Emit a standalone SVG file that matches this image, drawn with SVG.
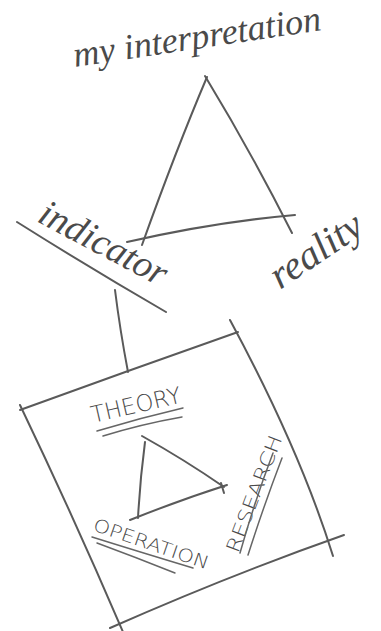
<svg xmlns="http://www.w3.org/2000/svg" width="381" height="631" viewBox="0 0 381 631">
<style>
  .ln { fill: none; stroke: #5a5a5a; stroke-width: 2; stroke-linecap: round; stroke-linejoin: round; }
  .thin { fill: none; stroke: #666; stroke-width: 1.5; stroke-linecap: round; }
  .hand { font-family: "Liberation Serif", serif; font-style: italic; fill: #4a4a4a; }
  .caps { font-family: "DejaVu Sans", sans-serif; font-weight: 200; fill: #4a4a4a; }
</style>
<rect width="381" height="631" fill="#fff"/>

<g id="triangle-top">
  <path class="ln" d="M207 77 Q176 150 142 245"/>
  <path class="ln" d="M205 76 Q250 150 292 233"/>
  <path class="ln" d="M127 242 Q215 222 295 215"/>
</g>

<g id="my-interpretation">
  <text class="hand" font-size="36" transform="translate(75 67) rotate(-8.5)" textLength="250" lengthAdjust="spacingAndGlyphs">my interpretation</text>
</g>

<g id="indicator">
  <text class="hand" font-size="38" transform="translate(36 221) rotate(28)" textLength="140" lengthAdjust="spacingAndGlyphs">indicator</text>
  <path class="ln" d="M17 222 Q90 268 166 312"/>
</g>

<g id="reality">
  <text class="hand" font-size="40" transform="translate(280 290) rotate(-34)" textLength="104" lengthAdjust="spacingAndGlyphs">reality</text>
</g>

<g id="frame">
  <path class="ln" d="M20 410 Q130 370 238 332"/>
  <path class="ln" d="M230 320 Q300 450 333 556"/>
  <path class="ln" d="M110 628 Q230 575 344 535"/>
  <path class="ln" d="M20 405 Q75 520 123 632"/>
</g>

<g id="theory">
  <text class="caps" font-size="23" transform="translate(93 423) rotate(-13)" textLength="92" lengthAdjust="spacingAndGlyphs">THEORY</text>
  <path class="thin" d="M97 431 Q140 418 183 408"/>
  <path class="thin" d="M103 436 Q142 424 182 417"/>
</g>

<g id="triangle-inner">
  <path class="ln" d="M142 436 Q185 460 224 487"/>
  <path class="ln" d="M145 442 Q140 480 138 518"/>
  <path class="ln" d="M130 520 Q180 500 227 485"/>
  <path class="ln" d="M221 483 L224 493"/>
</g>

<g id="operation">
  <text class="caps" font-size="18" transform="translate(92 530) rotate(19)" textLength="121" lengthAdjust="spacingAndGlyphs">OPERATION</text>
  <path class="thin" d="M92 537 Q140 552 193 568"/>
  <path class="thin" d="M97 543 Q135 557 175 573"/>
</g>

<g id="research">
  <text class="caps" font-size="19" transform="translate(238 554) rotate(-69)" textLength="124" lengthAdjust="spacingAndGlyphs">RESEARCH</text>
  <path class="thin" d="M240 553 Q255 500 273 453"/>
  <path class="thin" d="M248 555 Q264 505 282 458"/>
</g>

<g id="connectors">
  <path class="ln" d="M115 290 Q120 330 128 372"/>
</g>
</svg>
